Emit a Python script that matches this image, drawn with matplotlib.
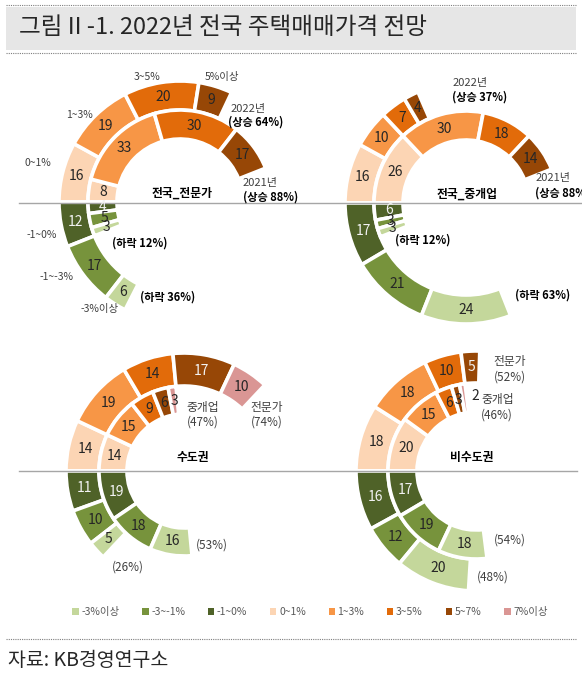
import matplotlib.pyplot as plt
from matplotlib.patches import Patch, Rectangle
import numpy as np

plt.rcParams['font.family'] = ['Noto Sans CJK KR', 'DejaVu Sans']

W, H = 582, 676

# categories and colours (legend order)
categories = ['-3%이상', '-3~-1%', '-1~0%', '0~1%', '1~3%', '3~5%', '5~7%', '7%이상']
colors = ['#c4d79b', '#77933c', '#4f6228', '#fcd5b4', '#f79646', '#e26b0a', '#974706', '#da9694']

# down = (-3%이상, -3~-1%, -1~0%), up = (0~1%, 1~3%, 3~5%, 5~7%, 7%이상)
expert_2022_down = [6, 17, 12]
expert_2022_up = [16, 19, 20, 9]
expert_2021_down = [3, 5, 4]
expert_2021_up = [8, 33, 30, 17]
agent_2022_down = [24, 21, 17]
agent_2022_up = [16, 10, 7, 4]
agent_2021_down = [3, 3, 6]
agent_2021_up = [26, 30, 18, 14]
capital_expert_down = [5, 10, 11]
capital_expert_up = [14, 19, 14, 17, 10]
capital_agent_down = [16, 18, 19]
capital_agent_up = [14, 15, 9, 6, 3]
noncap_expert_down = [20, 12, 16]
noncap_expert_up = [18, 18, 10, 5]
noncap_agent_down = [18, 19, 17]
noncap_agent_up = [20, 15, 6, 3, 2]

FULL = 200  # one full turn of the donut (data fills a bit more than half)
DARK = '#262626'
LIGHT = '#f2f2f2'


def Y(y):
    # pixel row -> data y (axes run bottom-up)
    return H - y


def draw_ring(ax, cx, cy, r, width, down, up, light=(2,), shift=None):
    """Draw one donut ring: rises clockwise and falls anticlockwise from 9 o'clock."""
    shift = shift or {}
    wp = dict(width=width, edgecolor='white', linewidth=2.6)
    up_idx = list(range(3, 3 + len(up)))
    wu, _ = ax.pie(up + [FULL - sum(up)], colors=[colors[i] for i in up_idx] + ['none'],
                   startangle=180, counterclock=False, radius=r, center=(cx, Y(cy)),
                   wedgeprops=wp, frame=True)
    wu[-1].set_visible(False)
    dn = down[::-1]
    dn_idx = [2, 1, 0]
    wd, _ = ax.pie(dn + [FULL - sum(dn)], colors=[colors[i] for i in dn_idx] + ['none'],
                   startangle=180, counterclock=True, radius=r, center=(cx, Y(cy)),
                   wedgeprops=wp, frame=True)
    wd[-1].set_visible(False)

    for w, v, idx in zip(wu[:-1] + wd[:-1], up + dn, up_idx + dn_idx):
        if v <= 0:
            continue
        ang = np.deg2rad((w.theta1 + w.theta2) / 2)
        rm = w.r - w.width / 2
        dx, dy = shift.get(idx, (0, 0))
        tx = cx + rm * np.cos(ang) + dx
        ty = Y(cy) + rm * np.sin(ang) + dy
        ax.text(tx, ty, str(v), ha='center', va='center', fontsize=10,
                color=LIGHT if idx in light else DARK)


def note(ax, x, y, s, size=7.5, bold=False, ha='center', color='#404040'):
    ax.text(x, Y(y), s, ha=ha, va='center', fontsize=size, color=color,
            fontweight='bold' if bold else 'normal')


fig = plt.figure(figsize=(W / 100, H / 100), dpi=100)
ax = fig.add_axes([0, 0, 1, 1])

# title bar
ax.add_patch(Rectangle((6, Y(50)), 570, 43, facecolor='#e6e6e6', edgecolor='none'))
ax.plot([6, 576], [Y(5), Y(5)], color='#7f7f7f', lw=0.8, ls=(0, (1, 1)))
ax.plot([6, 576], [Y(53), Y(53)], color='#7f7f7f', lw=0.8, ls=(0, (1, 1)))
ax.text(19, Y(28), '그림 II -1. 2022년 전국 주택매매가격 전망', fontsize=17, color='#262626',
        ha='left', va='center')

# panel 1: 전국_전문가
draw_ring(ax, 180, 202, 121, 29, expert_2022_down, expert_2022_up)
draw_ring(ax, 180, 202, 92, 29, expert_2021_down, expert_2021_up)
# panel 2: 전국_중개업
draw_ring(ax, 466, 203, 121, 29, agent_2022_down, agent_2022_up)
draw_ring(ax, 466, 203, 92, 29, agent_2021_down, agent_2021_up)
# panel 3: 수도권
draw_ring(ax, 184, 471, 118, 33, capital_expert_down, capital_expert_up, light=(2, 6))
draw_ring(ax, 184, 471, 85, 28, capital_agent_down, capital_agent_up)
# panel 4: 비수도권
draw_ring(ax, 476, 471, 120, 32, noncap_expert_down, noncap_expert_up, light=(2, 6))
draw_ring(ax, 476, 471, 88, 29, noncap_agent_down, noncap_agent_up, shift={7: (11, 2)})

# split lines between rise and fall
ax.plot([19, 582], [Y(202.5), Y(202.5)], color='#a6a6a6', lw=1.0)
ax.plot([19, 577], [Y(471), Y(471)], color='#a6a6a6', lw=1.0)

# panel 1 notes
note(ax, 147, 77, '3~5%', 7.5)
note(ax, 222, 77, '5%이상', 7.5)
note(ax, 79, 115, '1~3%', 7.5)
note(ax, 38, 163, '0~1%', 7.5)
note(ax, 42, 235, '-1~0%', 7.5)
note(ax, 57, 277, '-1~-3%', 7.5)
note(ax, 100, 309, '-3%이상', 7.5)
note(ax, 231, 109, '2022년', 8, ha='left')
note(ax, 228, 122, '(상승 64%)', 8, bold=True, ha='left', color='#000000')
note(ax, 243, 183, '2021년', 8, ha='left')
note(ax, 243, 197, '(상승 88%)', 8, bold=True, ha='left', color='#000000')
note(ax, 182, 193, '전국_전문가', 8.5, bold=True, color='#000000')
note(ax, 140, 243, '(하락 12%)', 8, bold=True, color='#000000')
note(ax, 168, 297, '(하락 36%)', 8, bold=True, color='#000000')

# panel 2 notes
note(ax, 453, 83, '2022년', 8, ha='left')
note(ax, 452, 97, '(상승 37%)', 8, bold=True, ha='left', color='#000000')
note(ax, 536, 178, '2021년', 8, ha='left')
note(ax, 535, 193, '(상승 88%)', 8, bold=True, ha='left', color='#000000')
note(ax, 467, 194, '전국_중개업', 8.5, bold=True, color='#000000')
note(ax, 423, 240, '(하락 12%)', 8, bold=True, color='#000000')
note(ax, 543, 295, '(하락 63%)', 8, bold=True, color='#000000')

# panel 3 notes
note(ax, 203, 408, '중개업', 8.5)
note(ax, 203, 422, '(47%)', 8.5)
note(ax, 267, 408, '전문가', 8.5)
note(ax, 267, 422, '(74%)', 8.5)
note(ax, 193, 458, '수도권', 8.5, bold=True, color='#000000')
note(ax, 212, 545, '(53%)', 8.5)
note(ax, 128, 567, '(26%)', 8.5)

# panel 4 notes
note(ax, 510, 362, '전문가', 8.5)
note(ax, 510, 377, '(52%)', 8.5)
note(ax, 498, 400, '중개업', 8.5)
note(ax, 497, 415, '(46%)', 8.5)
note(ax, 472, 458, '비수도권', 8.5, bold=True, color='#000000')
note(ax, 510, 540, '(54%)', 8.5)
note(ax, 493, 577, '(48%)', 8.5)

# legend
handles = [Patch(facecolor=c, edgecolor='none') for c in colors]
leg = ax.legend(handles, categories, loc='center', bbox_to_anchor=(310 / W, Y(612) / H),
                ncol=8, frameon=False, fontsize=7.5, handlelength=0.6, handleheight=0.6,
                handletextpad=0.25, columnspacing=2.2, borderaxespad=0)
for t in leg.get_texts():
    t.set_color('#595959')

# source
ax.plot([6, 576], [Y(639), Y(639)], color='#7f7f7f', lw=0.8, ls=(0, (1, 1)))
ax.text(8, Y(661), '자료: KB경영연구소', fontsize=14, color='#262626', ha='left', va='center')

ax.set_xlim(0, W)
ax.set_ylim(0, H)
ax.set_aspect('equal')
ax.axis('off')

fig.savefig('out.png', dpi=100)
